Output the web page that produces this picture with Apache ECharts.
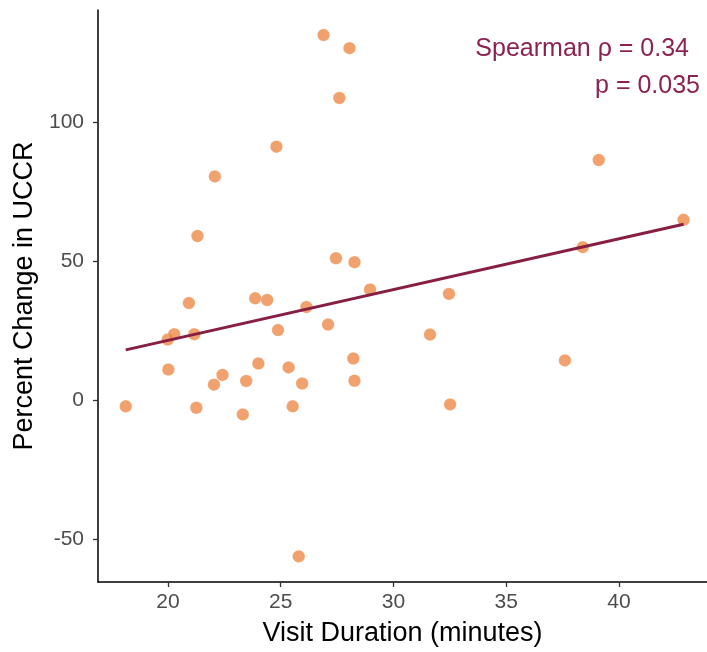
<!DOCTYPE html>
<html>
<head>
<meta charset="utf-8">
<script src="https://cdn.jsdelivr.net/npm/echarts@6/dist/echarts.min.js"></script>
<style>
  html, body { margin: 0; padding: 0; background: #fff; }
  #chart { width: 707px; height: 652px; }
</style>
</head>
<body>
<div id="chart"></div>
<script>
// visit duration (minutes)
const duration = [
  26.90, 28.05, 27.60, 24.81, 22.08, 21.31, 27.45, 28.27, 28.96,
  20.93, 23.87, 24.40, 26.14, 27.10, 24.88, 19.99, 20.28, 21.17,
  20.02, 24.01, 25.35, 22.42, 22.04, 23.47, 25.95, 28.22, 28.27,
  18.13, 21.26, 23.32, 25.53, 25.80,
  39.10, 42.86, 38.39, 32.46, 31.62, 37.60, 32.51
]
// percent change in UCCR
const change = [
  131.3, 126.6, 108.7, 91.2, 80.5, 59.1, 51.1, 49.7, 39.9,
  35.0, 36.7, 36.1, 33.6, 27.3, 25.3, 21.9, 23.8, 23.8,
  11.1, 13.3, 11.9, 9.2, 5.7, 7.0, 6.1, 15.1, 7.1,
  -2.1, -2.6, -5.0, -2.1, -56.0,
  86.4, 64.9, 55.1, 38.3, 23.7, 14.4, -1.4
]
// fitted line ends
const fitX = [18.13, 42.86]
const fitY = [18.2, 63.3]

const xTicks = [20, 25, 30, 35, 40]
const yTicks = [-50, 0, 50, 100]

const points = duration.map((d, i) => [d, change[i]])
const fit = fitX.map((d, i) => [d, fitY[i]])

const chart = echarts.init(document.getElementById('chart'))

const axisCommon = {
  type: 'value',
  splitLine: { show: false },
  axisLine: { show: true, onZero: false, lineStyle: { color: '#000', width: 1.5 } },
  axisTick: { show: true, length: 5, lineStyle: { color: '#333', width: 1.3 } },
  axisLabel: { color: '#4d4d4d', fontSize: 21, fontFamily: 'Liberation Sans' },
  nameTextStyle: { color: '#000', fontFamily: 'Liberation Sans' },
}

chart.setOption({
  animation: false,
  backgroundColor: '#fff',
  grid: { left: 98, top: 10, right: 0, bottom: 68, containLabel: false },
  xAxis: {
    ...axisCommon,
    min: 16.9,
    max: 43.9,
    name: 'Visit Duration (minutes)',
    nameLocation: 'middle',
    nameGap: 38,
    nameTextStyle: { ...axisCommon.nameTextStyle, fontSize: 27 },
    axisTick: { ...axisCommon.axisTick, customValues: xTicks },
    axisLabel: { ...axisCommon.axisLabel, margin: 10, customValues: xTicks },
  },
  yAxis: {
    ...axisCommon,
    min: -65.2,
    max: 140.3,
    name: 'Percent Change in UCCR',
    nameLocation: 'middle',
    nameGap: 60,
    nameTextStyle: { ...axisCommon.nameTextStyle, fontSize: 27 },
    axisTick: { ...axisCommon.axisTick, customValues: yTicks },
    axisLabel: { ...axisCommon.axisLabel, margin: 14, customValues: yTicks },
  },
  series: [
    {
      type: 'scatter',
      data: points,
      symbolSize: 12.5,
      itemStyle: { color: '#ec8a48', borderColor: 'rgba(255,255,255,0.5)', borderWidth: 0.5 },
      z: 2,
    },
    {
      type: 'line',
      data: fit,
      symbol: 'none',
      lineStyle: { color: '#861f41', width: 3 },
      z: 3,
    },
  ],
  graphic: [
    {
      type: 'text',
      right: 18,
      top: 37,
      style: {
        text: 'Spearman ρ = 0.34',
        fill: '#8b2252',
        fontSize: 25,
        fontFamily: 'Liberation Sans',
      },
    },
    {
      type: 'text',
      right: 7,
      top: 74,
      style: {
        text: 'p = 0.035',
        fill: '#8b2252',
        fontSize: 25,
        fontFamily: 'Liberation Sans',
      },
    },
  ],
})

window.addEventListener('resize', function () {
  chart.resize()
})
</script>
</body>
</html>
